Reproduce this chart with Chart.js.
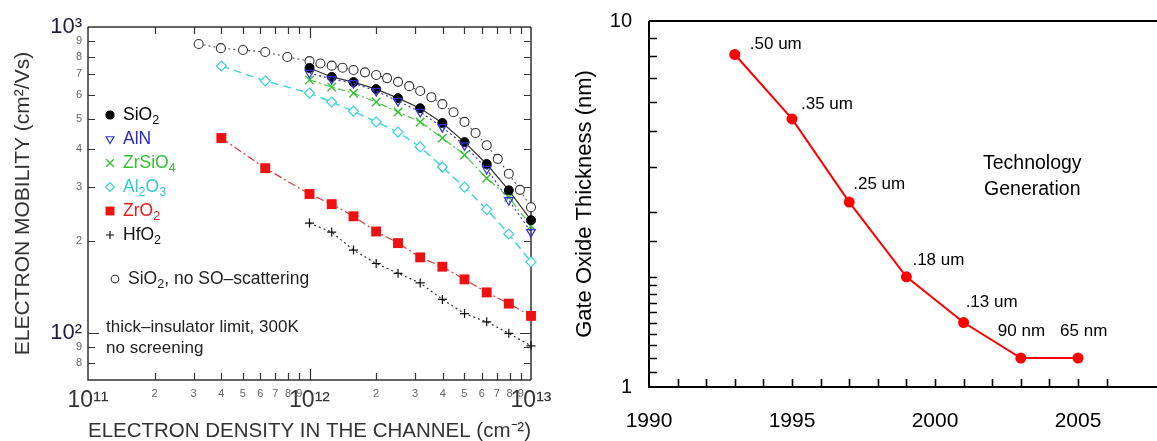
<!DOCTYPE html>
<html>
<head>
<meta charset="utf-8">
<script src="https://cdn.jsdelivr.net/npm/chart.js@4.4.1/dist/chart.umd.min.js"></script>
<style>
  html, body { margin: 0; padding: 0; background: #fff; }
  #wrap { position: relative; width: 1157px; height: 441px; overflow: hidden; }
  #mobility { position: absolute; left: 0; top: 0; }
  #oxide { position: absolute; left: 560px; top: 0; }
</style>
</head>
<body>
<div id="wrap">
  <canvas id="mobility" width="560" height="441"></canvas>
  <canvas id="oxide" width="597" height="441"></canvas>
</div>
<script>
// ---- left panel: electron mobility vs density ----
var densityDecade = [1.0e12, 1.26e12, 1.58e12, 2.0e12, 2.51e12, 3.16e12, 3.98e12, 5.01e12, 6.31e12, 7.94e12, 1.0e13];
var densityLow = [4.0e11, 6.31e11, 1.0e12, 1.26e12, 1.58e12, 2.0e12, 2.51e12, 3.16e12, 3.98e12, 5.01e12, 6.31e12, 7.94e12, 1.0e13];
var densityFine = [3.16e11, 3.98e11, 5.01e11, 6.31e11, 7.94e11, 1.0e12, 1.12e12, 1.26e12, 1.41e12, 1.58e12, 1.78e12,
                   2.0e12, 2.24e12, 2.51e12, 2.82e12, 3.16e12, 3.55e12, 3.98e12, 4.47e12, 5.01e12, 5.62e12, 6.31e12,
                   7.08e12, 7.94e12, 8.91e12, 1.0e13];

var muSiO2    = [735, 687, 661, 627, 586, 543, 486, 421, 357, 293, 234];
var muAlN     = [708, 676, 656, 618, 573, 528, 471, 411, 344, 272, 214];
var muZrSiO4  = [672, 637, 608, 569, 528, 490, 434, 382, 321, 278, 224];
var muAl2O3   = [746, 667, 608, 569, 531, 490, 454, 406, 349, 300, 254, 211, 171];
var muZrO2    = [434, 346, 285, 264, 241, 215, 197, 177, 165, 150, 136, 125, 114];
var muHfO2    = [229, 214, 187, 169, 157, 146, 129, 116, 109, 100, 91];
var muNoSO    = [880, 853, 841, 829, 798, 774, 760, 748, 736, 724, 711, 697, 681, 662, 641, 618, 590, 560,
                 527, 490, 451, 411, 371, 332, 294, 258];

var seriesNames = ['SiO_2', 'AlN', 'ZrSiO_4', 'Al_2O_3', 'ZrO_2', 'HfO_2', 'SiO_2, no SO\u2013scattering'];
var noteLines = ['thick\u2013insulator limit, 300K', 'no screening'];

// ---- right panel: gate oxide thickness by year ----
var years = [1993, 1995, 1997, 1999, 2001, 2003, 2005];
var toxNm = [8.1, 5.4, 3.2, 2.0, 1.5, 1.2, 1.2];
var genLabels = ['.50 um', '.35 um', '.25 um', '.18 um', '.13 um', '90 nm', '65 nm'];

var family = '"Liberation Sans", Arial, Helvetica, sans-serif';
Chart.defaults.font.family = family;

var SUP = {'0': '\u2070', '1': '\u00b9', '2': '\u00b2', '3': '\u00b3', '4': '\u2074',
           '5': '\u2075', '6': '\u2076', '7': '\u2077', '8': '\u2078', '9': '\u2079'};

function mantissa(v) {
  var e = Math.floor(Math.log10(v) + 1e-9);
  return v / Math.pow(10, e);
}
function whole(m) { return Math.abs(m - Math.round(m)) < 1e-6; }
function isDecade(v) { var m = mantissa(v); return whole(m) && Math.round(m) === 1; }
function powLabel(v) {
  var e = String(Math.round(Math.log10(v)));
  return '10' + e.split('').map(function (c) { return SUP[c]; }).join('');
}
function logLabel(v) {
  var m = mantissa(v);
  if (!whole(m)) return '';
  return Math.round(m) === 1 ? powLabel(v) : String(Math.round(m));
}

function pts(xs, ys) {
  return xs.map(function (x, i) { return {x: x, y: ys[i]}; });
}

// fixed axis box, no extra label overhang padding
function fixBox(w, h) {
  return function (s) {
    if (w) s.width = w;
    if (h) s.height = h;
    s.paddingTop = 0; s.paddingBottom = 0; s.paddingLeft = 0; s.paddingRight = 0;
  };
}

function drawRich(ctx, text, x, y, size, color) {
  var parts = text.split(/_(\d)/);
  ctx.fillStyle = color;
  ctx.textBaseline = 'middle';
  ctx.textAlign = 'left';
  parts.forEach(function (p, i) {
    var sub = i % 2 === 1;
    ctx.font = (sub ? size * 0.72 : size) + 'px ' + family;
    ctx.fillText(p, x, sub ? y + size * 0.32 : y);
    x += ctx.measureText(p).width;
  });
}

// frame + inward ticks
var frameTicks = {
  id: 'frameTicks',
  beforeDatasetsDraw: function (chart, args, o) {
    var a = chart.chartArea, ctx = chart.ctx;
    var xs = chart.scales.x, ys = chart.scales.y;
    ctx.save();
    ctx.strokeStyle = o.color;
    ctx.lineWidth = o.width;
    ctx.beginPath();
    ctx.moveTo(a.left, a.top); ctx.lineTo(a.left, a.bottom); ctx.lineTo(a.right, a.bottom);
    ctx.moveTo(a.left, a.top); ctx.lineTo(a.right, a.top);
    if (o.box) { ctx.moveTo(a.right, a.top); ctx.lineTo(a.right, a.bottom); }
    ctx.stroke();
    ctx.lineWidth = o.tickWidth;
    ctx.beginPath();
    xs.ticks.forEach(function (t) {
      var len = o.len('x', t.value);
      if (!len) return;
      var p = Math.round(xs.getPixelForValue(t.value)) + 0.5;
      if (p <= a.left + 1 || p >= a.right - 1) return;
      ctx.moveTo(p, a.bottom); ctx.lineTo(p, a.bottom - len);
      if (o.box) { ctx.moveTo(p, a.top); ctx.lineTo(p, a.top + len); }
    });
    ys.ticks.forEach(function (t) {
      var len = o.len('y', t.value);
      if (!len) return;
      var p = Math.round(ys.getPixelForValue(t.value)) + 0.5;
      if (p <= a.top + 1 || p >= a.bottom - 1) return;
      ctx.moveTo(a.left, p); ctx.lineTo(a.left + len, p);
      if (o.box) { ctx.moveTo(a.right, p); ctx.lineTo(a.right - len, p); }
    });
    ctx.stroke();
    ctx.restore();
  }
};

// legend + notes inside the mobility plot
var mobilityNotes = {
  id: 'mobilityNotes',
  afterDatasetsDraw: function (chart) {
    var ctx = chart.ctx;
    var slots = [115, 139, 163, 187, 211, 235, 279];
    var helpers = Chart.helpers;
    ctx.save();
    chart.data.datasets.forEach(function (ds, i) {
      var y = slots[i];
      var mx = i === 6 ? 115 : 110;
      ctx.save();
      ctx.fillStyle = ds.pointBackgroundColor || 'rgba(0,0,0,0)';
      ctx.strokeStyle = ds.pointBorderColor;
      ctx.lineWidth = ds.pointBorderWidth;
      if (helpers && helpers.drawPoint) {
        helpers.drawPoint(ctx, {
          pointStyle: ds.pointStyle,
          rotation: ds.pointRotation || 0,
          radius: ds.pointRadius * (i === 6 ? 0.85 : 0.9),
          borderWidth: ds.pointBorderWidth
        }, mx, y);
      }
      ctx.restore();
      drawRich(ctx, ds.label, i === 6 ? 128 : 123, y, 17.5, ds.textColor);
    });
    ctx.fillStyle = '#222';
    ctx.font = '17px ' + family;
    ctx.textBaseline = 'middle';
    ctx.fillText(noteLines[0], 106, 327);
    ctx.fillText(noteLines[1], 106, 348);
    ctx.restore();
  }
};

var mobilityChart = new Chart(document.getElementById('mobility'), {
  type: 'scatter',
  data: {
    datasets: [
      {label: seriesNames[0], data: pts(densityDecade, muSiO2), showLine: true, clip: false, order: 1,
       borderColor: '#333', borderWidth: 1.2, pointStyle: 'circle', pointRadius: 4.5,
       pointBackgroundColor: '#000', pointBorderColor: '#000', pointBorderWidth: 1, textColor: '#000'},
      {label: seriesNames[1], data: pts(densityDecade, muAlN), showLine: true, clip: false, order: 0,
       borderColor: '#3a3ad6', borderWidth: 1.2, borderDash: [2, 3], pointStyle: 'triangle', pointRotation: 180,
       pointRadius: 5, pointBackgroundColor: 'rgba(0,0,0,0)', pointBorderColor: '#3030d0', pointBorderWidth: 1.2,
       textColor: '#2a2ad0'},
      {label: seriesNames[2], data: pts(densityDecade, muZrSiO4), showLine: true, clip: false, order: 2,
       borderColor: '#44cc44', borderWidth: 1.2, borderDash: [7, 3, 2, 3], pointStyle: 'crossRot', pointRadius: 6,
       pointBorderColor: '#33c033', pointBorderWidth: 1.4, textColor: '#33c033'},
      {label: seriesNames[3], data: pts(densityLow, muAl2O3), showLine: true, clip: false, order: 2,
       borderColor: '#44d6d6', borderWidth: 1.5, borderDash: [8, 5], pointStyle: 'rectRot', pointRadius: 5,
       pointBackgroundColor: '#fff', pointBorderColor: '#3cd0d0', pointBorderWidth: 1.2, textColor: '#33cccc'},
      {label: seriesNames[4], data: pts(densityLow, muZrO2), showLine: true, clip: false, order: 2,
       borderColor: '#e03a3a', borderWidth: 1.2, borderDash: [8, 3, 2, 3], pointStyle: 'rect', pointRadius: 7,
       pointBackgroundColor: '#ee1111', pointBorderColor: '#ee1111', pointBorderWidth: 0, textColor: '#e02020'},
      {label: seriesNames[5], data: pts(densityDecade, muHfO2), showLine: true, clip: false, order: 2,
       borderColor: '#333', borderWidth: 1.2, borderDash: [2, 3], pointStyle: 'cross', pointRadius: 4.5,
       pointBorderColor: '#111', pointBorderWidth: 1.2, textColor: '#111'},
      {label: seriesNames[6], data: pts(densityFine, muNoSO), showLine: true, clip: false, order: 3,
       borderColor: '#555', borderWidth: 1.1, borderDash: [2, 3], pointStyle: 'circle', pointRadius: 4.5,
       pointBackgroundColor: '#fff', pointBorderColor: '#333', pointBorderWidth: 1.1, textColor: '#222'}
    ]
  },
  options: {
    responsive: false,
    animation: false,
    layout: {autoPadding: false, padding: {top: 27, right: 29, bottom: 0, left: 0}},
    plugins: {
      legend: {display: false},
      tooltip: {enabled: false},
      frameTicks: {
        color: '#333', width: 1.5, tickWidth: 1.2, box: true,
        len: function (axis, v) {
          var m = mantissa(v);
          if (!whole(m)) return 0;
          return Math.round(m) === 1 ? 11 : 7;
        }
      }
    },
    scales: {
      x: {
        type: 'logarithmic', min: 1e11, max: 1e13,
        grid: {display: false, drawTicks: false}, border: {display: false},
        afterFit: fixBox(0, 61),
        ticks: {
          autoSkip: false, maxRotation: 0, padding: 7,
          callback: function (v) { return logLabel(v); },
          font: function (c) {
            return c.tick && isDecade(c.tick.value) ? {size: 23, family: family} : {size: 11, family: family};
          },
          color: function (c) { return c.tick && isDecade(c.tick.value) ? '#333' : '#666'; }
        },
        title: {display: true, text: 'ELECTRON DENSITY IN THE CHANNEL (cm\u207b\u00b2)', color: '#333',
                font: {size: 21, family: family}, padding: {top: 0, bottom: -3}}
      },
      y: {
        type: 'logarithmic', min: 70.4, max: 1000,
        grid: {display: false, drawTicks: false}, border: {display: false},
        afterFit: fixBox(88, 0),
        ticks: {
          autoSkip: false, padding: 6,
          callback: function (v) { return logLabel(v); },
          font: function (c) {
            return c.tick && isDecade(c.tick.value) ? {size: 22, family: family} : {size: 11, family: family};
          },
          color: function (c) { return c.tick && isDecade(c.tick.value) ? '#1d1d3d' : '#666'; }
        },
        title: {display: true, text: 'ELECTRON MOBILITY (cm\u00b2/Vs)', color: '#333',
                font: {size: 21, family: family}, padding: {top: 11, bottom: 0}}
      }
    }
  },
  plugins: [frameTicks, mobilityNotes]
});

// labels for the oxide curve
var oxideNotes = {
  id: 'oxideNotes',
  afterDatasetsDraw: function (chart, args, o) {
    var ctx = chart.ctx, meta = chart.getDatasetMeta(0);
    var xs = chart.scales.x, ys = chart.scales.y;
    ctx.save();
    ctx.fillStyle = '#000';
    ctx.textBaseline = 'middle';
    ctx.textAlign = 'left';
    ctx.font = '17px ' + family;
    genLabels.forEach(function (t, i) {
      var p = meta.data[i], off = o.offsets[i];
      ctx.fillText(t, p.x + off[0], p.y + off[1]);
    });
    ctx.textAlign = 'center';
    ctx.font = '19.5px ' + family;
    ctx.fillText('Technology', xs.getPixelForValue(2003.4), ys.getPixelForValue(4.08));
    ctx.fillText('Generation', xs.getPixelForValue(2003.4), ys.getPixelForValue(3.47));
    ctx.restore();
  }
};

var oxideChart = new Chart(document.getElementById('oxide'), {
  type: 'scatter',
  data: {
    datasets: [{
      label: 'Gate oxide', data: pts(years, toxNm), showLine: true, clip: false,
      borderColor: '#ff0000', borderWidth: 2, pointStyle: 'circle', pointRadius: 5.5,
      pointBackgroundColor: '#ff0000', pointBorderColor: '#ff0000', pointBorderWidth: 0
    }]
  },
  options: {
    responsive: false,
    animation: false,
    layout: {autoPadding: false, padding: {top: 21, right: 0, bottom: 0, left: 0}},
    plugins: {
      legend: {display: false},
      tooltip: {enabled: false},
      frameTicks: {
        color: '#000', width: 2, tickWidth: 1.6, box: false,
        len: function () { return 8; }
      },
      oxideNotes: {
        offsets: [[15, -10], [9, -15], [4, -18], [6, -17], [2, -20], [-23, -27], [-18, -27]]
      }
    },
    scales: {
      x: {
        type: 'linear', min: 1990, max: 2007.76, bounds: 'data',
        grid: {display: false, drawTicks: false}, border: {display: false},
        afterFit: fixBox(0, 54),
        ticks: {
          stepSize: 1, autoSkip: false, maxRotation: 0, padding: 22,
          callback: function (v) { return v % 5 === 0 ? String(v) : ''; },
          color: '#000', font: {size: 21, family: family}
        }
      },
      y: {
        type: 'logarithmic', min: 1, max: 10,
        grid: {display: false, drawTicks: false}, border: {display: false},
        afterFit: fixBox(89, 0),
        ticks: {
          autoSkip: false, padding: 17,
          callback: function (v) { return (v === 1 || v === 10) ? String(v) : ''; },
          color: '#000', font: {size: 20, family: family}
        },
        title: {display: true, text: 'Gate Oxide Thickness (nm)', color: '#000',
                font: {size: 22, family: family}, padding: {top: 12, bottom: 0}}
      }
    }
  },
  plugins: [frameTicks, oxideNotes]
});
</script>
</body>
</html>
